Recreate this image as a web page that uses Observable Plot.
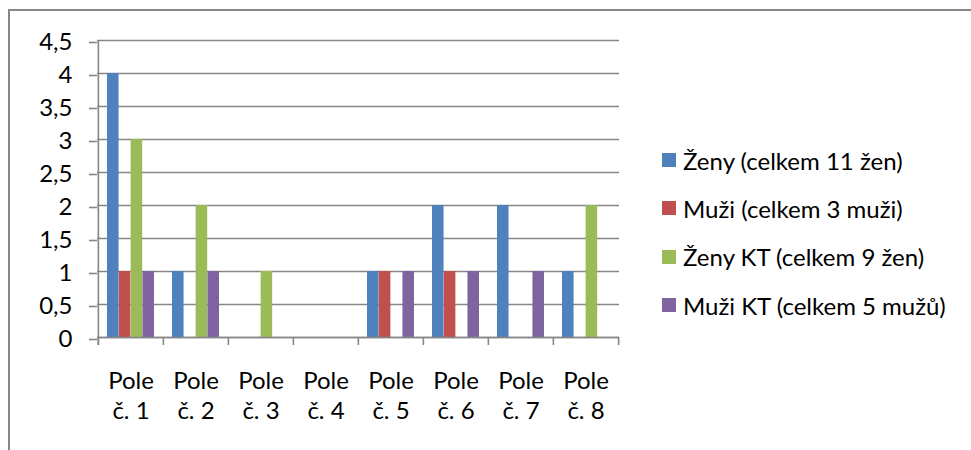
<!DOCTYPE html>
<html>
<head>
<meta charset="utf-8">
<script src="https://cdn.jsdelivr.net/npm/d3@7"></script>
<script src="https://cdn.jsdelivr.net/npm/@observablehq/plot@0.6"></script>
<style>
  body { margin: 0; background: #fff; font-family: Lato, sans-serif; }
  #wrap { position: relative; width: 971px; height: 450px; overflow: hidden; background: #fff; }
  #border { position: absolute; left: 8px; top: 9px; width: 1100px; height: 600px;
            border-top: 2px solid #868686; border-left: 2px solid #868686; }
  #chart { position: absolute; left: 0; top: 0; }
  #legend { position: absolute; left: 662px; top: 136px; }
  .row { display: flex; align-items: center; height: 48.3px; font-size: 24px; color: #000; white-space: nowrap; }
  .sw { width: 14px; height: 14px; margin-right: 7px; flex: none; }
</style>
</head>
<body>
<div id="wrap">
  <div id="border"></div>
  <div id="chart"></div>
  <div id="legend"></div>
</div>
<script>
const categories = ["Pole č. 1", "Pole č. 2", "Pole č. 3", "Pole č. 4", "Pole č. 5", "Pole č. 6", "Pole č. 7", "Pole č. 8"];
const seriesNames = ["Ženy (celkem 11 žen)", "Muži (celkem 3 muži)", "Ženy KT (celkem 9 žen)", "Muži KT (celkem 5 mužů)"];
const zeny   = [4, 1, 0, 0, 1, 2, 2, 1];
const muzi   = [1, 0, 0, 0, 1, 1, 0, 0];
const zenyKT = [3, 2, 1, 0, 0, 0, 0, 2];
const muziKT = [1, 1, 0, 0, 1, 1, 1, 0];
const colors = ["#4F81BD", "#C0504D", "#9BBB59", "#8064A2"];
const yTicks = [0, 0.5, 1, 1.5, 2, 2.5, 3, 3.5, 4, 4.5];

const seriesValues = [zeny, muzi, zenyKT, muziKT];

const W = 971, H = 450;
const mL = 97, mR = 352, mT = 40, mB = 113;
const step = (W - mL - mR) / categories.length;
const groupPad = 9;
const barW = (step - 2 * groupPad) / seriesNames.length;
const gray = "#868686";

const table = [];
seriesValues.forEach((vals, k) => {
  vals.forEach((v, i) => table.push({category: categories[i], series: seriesNames[k], k, value: v}));
});

const barMarks = seriesNames.map((name, k) =>
  Plot.barY(table.filter(d => d.k === k && d.value > 0), {
    x: "category",
    y: "value",
    fill: colors[k],
    insetLeft: groupPad + barW * k,
    insetRight: step - groupPad - barW * (k + 1)
  })
);

const chart = Plot.plot({
  width: W,
  height: H,
  marginLeft: mL,
  marginRight: mR,
  marginTop: mT,
  marginBottom: mB,
  style: {fontFamily: "Lato, sans-serif", fontSize: "24px", color: "#000", background: "transparent"},
  x: {domain: categories, padding: 0, label: null},
  y: {domain: [0, 4.5], label: null},
  marks: [
    Plot.gridY(yTicks, {stroke: gray, strokeOpacity: 1, strokeWidth: 1.6}),
    ...barMarks,
    Plot.ruleX([categories[0]], {x: d => d, y1: 4.5, y2: 0, dx: -step / 2, insetBottom: -8, stroke: gray, strokeWidth: 1.6}),
    Plot.ruleX(categories, {x: d => d, y1: 0, y2: 0, dx: -step / 2, insetBottom: -8, stroke: gray, strokeWidth: 1.6}),
    Plot.ruleX([categories[categories.length - 1]], {x: d => d, y1: 0, y2: 0, dx: step / 2, insetBottom: -8, stroke: gray, strokeWidth: 1.6}),
    Plot.ruleY([0], {stroke: gray, strokeWidth: 1.6}),
    Plot.axisY(yTicks, {
      tickSize: 8, tickPadding: 17, stroke: gray, strokeWidth: 1.6, fill: "#000",
      fontSize: 24, dy: 2, label: null,
      tickFormat: d => String(d).replace(".", ",")
    }),
    Plot.axisX({
      tickSize: 0, tickPadding: 31, fill: "#000", fontSize: 24, label: null,
      lineHeight: 1.22,
      tickFormat: d => d.replace(" ", "\n")
    })
  ]
});
document.getElementById("chart").appendChild(chart);

const legend = document.getElementById("legend");
seriesNames.forEach((name, k) => {
  const row = document.createElement("div");
  row.className = "row";
  const sw = document.createElement("span");
  sw.className = "sw";
  sw.style.background = colors[k];
  const txt = document.createElement("span");
  txt.textContent = name;
  row.appendChild(sw);
  row.appendChild(txt);
  legend.appendChild(row);
});
</script>
</body>
</html>
